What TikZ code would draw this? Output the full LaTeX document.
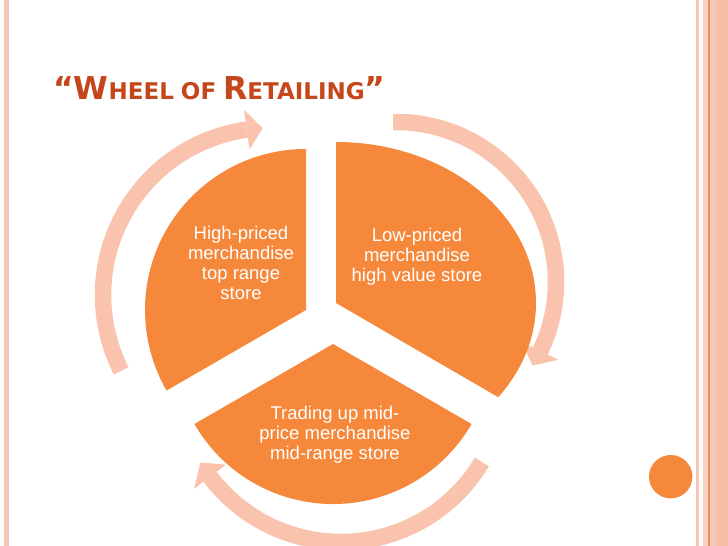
\documentclass[tikz,border=0pt]{standalone}
\usepackage{fontspec}
\setmainfont{Liberation Sans}
\newfontfamily\titlefont{DejaVu Sans}
\usetikzlibrary{calc}

\definecolor{wheelorange}{HTML}{F5883A}
\definecolor{arrowpink}{HTML}{F9C3AE}
\definecolor{titlered}{HTML}{C4461A}
\definecolor{borderpink}{HTML}{F8C6B6}
\definecolor{borderline}{HTML}{E8935A}

\newcommand{\titlecap}[1]{{\fontsize{31.5}{31.5}\selectfont #1}}
\newcommand{\titlesmall}[1]{{\fontsize{23}{23}\selectfont #1}}

\begin{document}
\begin{tikzpicture}[x=1pt, y=1pt,
    sector/.style={fill=wheelorange},
    cyclearrow/.style={draw=arrowpink, line width=16.5pt},
    arrowhead/.style={fill=arrowpink},
    sectortext/.style={text=white, align=center, inner sep=0pt, font=\fontsize{18.5}{20}\selectfont}]
    \useasboundingbox (0,0) rectangle (728,546);

    % Slide borders
    \fill[borderpink] (4,0) rectangle (8.5,546);
    \fill[borderpink] (695.7,0) rectangle (699,546);
    \fill[borderpink!80] (703.3,0) rectangle (708.3,546);
    \fill[borderline] (708.3,0) rectangle (710,546);
    \fill[borderpink] (710,0) rectangle (715.7,546);
    \fill[borderpink!90!orange] (715.7,0) rectangle (728,546);
    % Corner dot
    \fill[wheelorange] (670.7,69.3) coordinate (D) circle (21.7);

    % Title
    \node[anchor=base west, inner sep=0pt, text=titlered] (title) at (53,446)
        {\titlefont\bfseries\titlecap{“W}\titlesmall{HEEL}\hspace{7pt}\titlesmall{OF}\hspace{7pt}\titlecap{R}\titlesmall{ETAILING}\titlecap{”}};

    % Cycle arrows
    \coordinate (LA) at (270,251);
    \draw[cyclearrow] (LA) ++(207:167) arc[start angle=207, end angle=98, radius=167];
    \fill[arrowhead] ($(LA)+(98:147)$) -- ($(LA)+(92.5:167)$) -- ($(LA)+(98:187)$) -- cycle;
    \coordinate (RA) at (396,264);
    \draw[cyclearrow] (RA) ++(91:160) arc[start angle=91, end angle=-25.6, radius=160];
    \fill[arrowhead] ($(RA)+(-25.6:140)$) -- ($(RA)+(-31.5:160)$) -- ($(RA)+(-25.6:180)$) -- cycle;
    \coordinate (BA) at (341,168);
    \draw[cyclearrow] (BA) ++(-30.8:164) arc[start angle=-30.8, end angle=-143, radius=164];
    \fill[arrowhead] ($(BA)+(-143:144)$) -- ($(BA)+(-149:164)$) -- ($(BA)+(-143:184)$) -- cycle;

    % Wheel sectors
    \coordinate (L) at (306,236);
    \fill[sector] (L) -- ++(0,161) arc[start angle=90, end angle=210, radius=161] -- cycle;
    \coordinate (R) at (336,243);
    \fill[sector] (R) -- ++(0,161) arc[start angle=90, end angle=-35.8, x radius=200, y radius=161] -- cycle;
    \coordinate (B) at (333,202);
    \fill[sector] (B) -- ++(210:160) arc[start angle=210, end angle=330, radius=160] -- cycle;

    % Sector texts
    \node[sectortext] (high) at (241,283) {High-priced\\merchandise\\top range\\store};
    \node[sectortext] (low) at (417,289) {Low-priced\\merchandise\\high value store};
    \node[sectortext] (mid) at (335,111) {Trading up mid-\\price merchandise\\mid-range store};
\end{tikzpicture}
\end{document}
